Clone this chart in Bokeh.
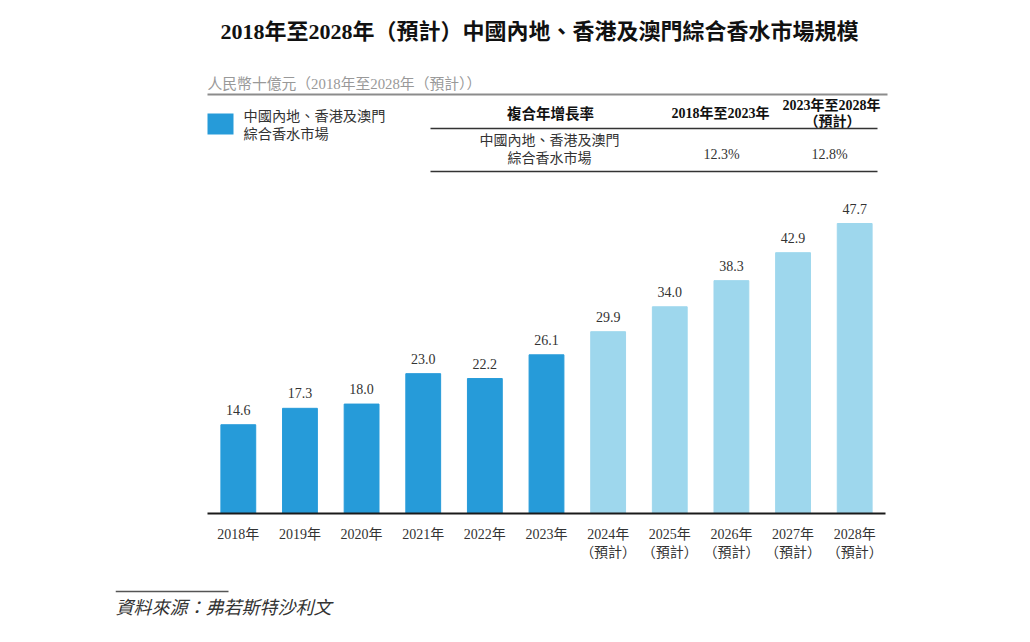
from bokeh.plotting import figure
from bokeh.layouts import column
from bokeh.models import ColumnDataSource, Label, LabelSet, Arrow, BoxAnnotation, FactorRange, Range1d
from bokeh.embed import file_html
from bokeh.resources import INLINE

# ---- data ----
years = ["2018年", "2019年", "2020年", "2021年", "2022年", "2023年",
         "2024年\n（預計）", "2025年\n（預計）", "2026年\n（預計）", "2027年\n（預計）", "2028年\n（預計）"]
market_size = [14.6, 17.3, 18.0, 23.0, 22.2, 26.1, 29.9, 34.0, 38.3, 42.9, 47.7]
forecast = [False, False, False, False, False, False, True, True, True, True, True]
value_labels = ["14.6", "17.3", "18.0", "23.0", "22.2", "26.1", "29.9", "34.0", "38.3", "42.9", "47.7"]
cagr_periods = ["2018年至2023年", "2023年至2028年"]
cagr_values = ["12.3%", "12.8%"]

title_text = "2018年至2028年（預計）中國內地、香港及澳門綜合香水市場規模"
unit_text = "人民幣十億元（2018年至2028年（預計））"
series_name = ["中國內地、香港及澳門", "綜合香水市場"]
source_text = "資料來源：弗若斯特沙利文"

HIST = "#269BD9"
FCST = "#9ED7ED"
SERIF = "'Liberation Serif', 'Noto Sans CJK TC', serif"
CJK = "'Liberation Serif', 'Noto Sans CJK TC', sans-serif"

colors = [FCST if f else HIST for f in forecast]
src = ColumnDataSource(dict(year=years, v=market_size, lab=value_labels, color=colors))

W, H = 1014, 570
BAR_L, BAR_R = 207, 885         # extent of the category band (px)
PAD = 92                        # frame padding on each side (px)
FL, FR = BAR_L - PAD, BAR_R + PAD
FB = 513                        # frame bottom (px)
step = (BAR_R - BAR_L) / len(years)
scale = (513 - 223) / 47.7

p = figure(x_range=FactorRange(*years, range_padding=PAD / step, range_padding_units="absolute"),
           y_range=Range1d(0, FB / scale),
           width=W, height=H, output_backend="svg", toolbar_location=None,
           y_axis_location=None, min_border_left=FL, min_border_right=W - FR,
           min_border_top=0, min_border_bottom=H - FB)
p.outline_line_color = None
p.xgrid.grid_line_color = None
p.ygrid.grid_line_color = None

p.vbar(x="year", top="v", width=0.565, color="color", source=src)
p.add_layout(LabelSet(x="year", y="v", text="lab", source=src, y_offset=15,
                      text_align="center", text_baseline="middle",
                      text_font_size="14px", text_color="#333333", text_font=SERIF))

ax = p.xaxis[0]
ax.bounds = (0, len(years))
ax.axis_line_color = "#1a1a1a"
ax.axis_line_width = 2
ax.major_tick_line_color = None
ax.minor_tick_line_color = None
ax.major_label_standoff = 7
ax.major_label_text_font = SERIF
ax.major_label_text_font_size = "14px"
ax.major_label_text_color = "#333333"
ax.major_label_text_line_height = 1.2

# page px -> frame-relative screen units
def sx(px):
    return px - FL

def sy(py):
    return FB - py

def lab(text, px, py, size, color="#333333", align="left", font=CJK, style="normal"):
    p.add_layout(Label(x=sx(px), y=sy(py), x_units="screen", y_units="screen", text=text,
                       text_font=font, text_font_size=f"{size}px", text_color=color,
                       text_align=align, text_baseline="middle", text_font_style=style))

def rule(x0, x1, py, color, w):
    p.add_layout(Arrow(x_start=sx(x0), y_start=sy(py), x_end=sx(x1), y_end=sy(py),
                       start_units="screen", end_units="screen", start=None, end=None,
                       line_color=color, line_width=w))

# title
lab(title_text, 539, 31, 22, "#111111", "center", CJK, "bold")
# unit
lab(unit_text, 207, 83, 14.8, "#999999")
rule(207, 887, 94, "#8c8c8c", 2)
# legend
p.add_layout(BoxAnnotation(left=sx(207), right=sx(233), top=sy(113), bottom=sy(134),
                           left_units="screen", right_units="screen", top_units="screen",
                           bottom_units="screen", fill_color=HIST, fill_alpha=1, line_color=None))
lab(series_name[0], 243, 115, 14.2)
lab(series_name[1], 243, 133, 14.2)
# table
lab("複合年增長率", 550, 113, 14.5, "#111111", "center", CJK, "bold")
lab(cagr_periods[0], 720, 113, 14, "#111111", "center", CJK, "bold")
lab(cagr_periods[1], 831, 105, 14, "#111111", "center", CJK, "bold")
lab("（預計）", 832, 121, 14, "#111111", "center", CJK, "bold")
rule(430, 877, 128, "#333333", 1.3)
lab(series_name[0], 549, 140, 14, "#333333", "center")
lab(series_name[1], 549, 158, 14, "#333333", "center")
lab(cagr_values[0], 721, 154, 14, "#333333", "center", SERIF)
lab(cagr_values[1], 829, 154, 14, "#333333", "center", SERIF)
rule(430, 877, 171, "#333333", 1.6)

# source strip below the chart (frame aligned with the main frame; data units = page px)
H2 = 56
p2 = figure(x_range=Range1d(FL, FR), y_range=Range1d(H + H2, H), width=W, height=H2,
            output_backend="svg", toolbar_location=None, x_axis_location=None,
            y_axis_location=None, min_border_left=FL, min_border_right=W - FR,
            min_border_top=0, min_border_bottom=0)
p2.outline_line_color = None
p2.xgrid.grid_line_color = None
p2.ygrid.grid_line_color = None
p2.add_layout(Arrow(x_start=115, y_start=591, x_end=228, y_end=591, start=None, end=None,
                    line_color="#555555", line_width=1.5))
p2.add_layout(Label(x=115, y=607, text=source_text, text_font=CJK, text_font_size="18px",
                    text_color="#333333", text_align="left", text_baseline="middle",
                    text_font_style="italic"))

layout = column(p, p2, spacing=0)
open("out.html", "w").write(file_html(layout, INLINE))
